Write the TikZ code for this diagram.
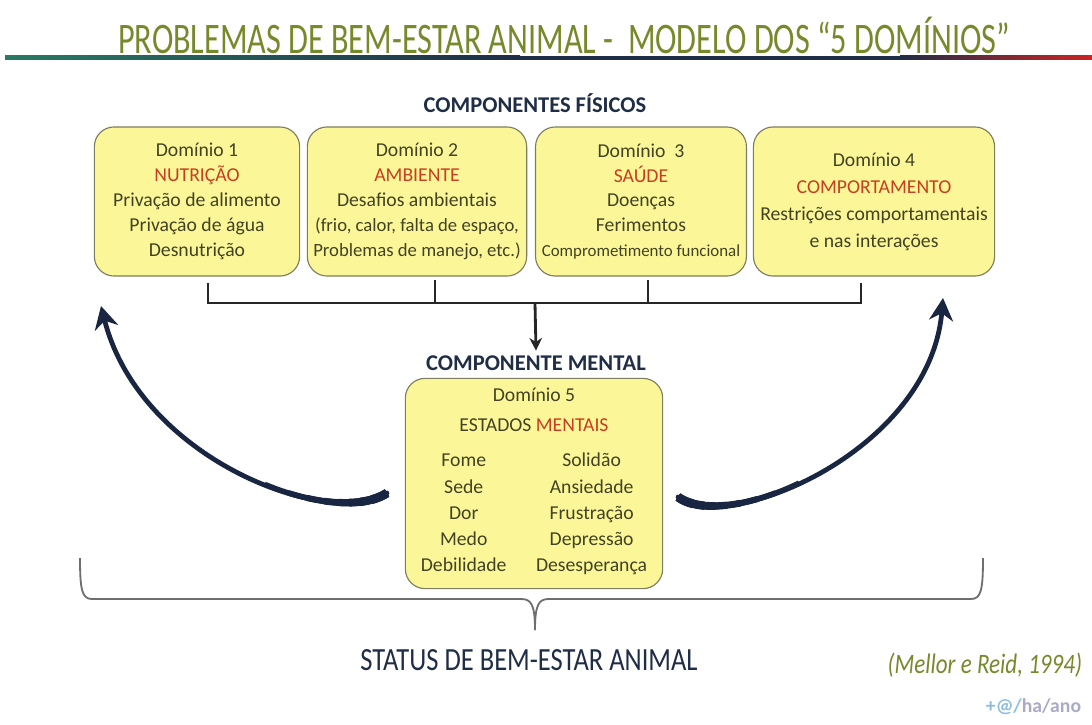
\documentclass[tikz,border=0pt]{standalone}
\usepackage{fontspec}
\setmainfont{Carlito}
\newfontfamily\titlefont[FakeStretch=0.74]{Carlito}
\newfontfamily\statusfont[FakeStretch=0.82]{Carlito}
\usetikzlibrary{arrows.meta}

\definecolor{titleolive}{RGB}{118,138,44}
\definecolor{headnavy}{RGB}{31,45,70}
\definecolor{boxfill}{RGB}{251,247,152}
\definecolor{boxline}{RGB}{125,125,95}
\definecolor{boxtext}{RGB}{66,66,36}
\definecolor{domred}{RGB}{200,62,32}
\definecolor{arrownavy}{RGB}{24,38,66}
\definecolor{lineteal}{RGB}{40,122,100}
\definecolor{linered}{RGB}{205,35,35}
\definecolor{bracegray}{RGB}{110,110,110}
\definecolor{tagblue}{RGB}{140,190,225}
\definecolor{tagmuted}{RGB}{170,170,200}

\tikzset{
  dombox/.style={draw=boxline, fill=boxfill, rounded corners=14pt, line width=0.8pt,
    align=center, text=boxtext, inner sep=0pt, minimum height=106pt,
    font=\fontsize{14}{17.7}\selectfont},
  headlabel/.style={text=headnavy, font=\bfseries\fontsize{16}{18}\selectfont},
  bracket/.style={draw=black!85, line width=2pt},
  swoosh/.style={draw=arrownavy, line width=3.4pt, line cap=round,
    -{Stealth[length=16pt,width=17pt]}},
  swooshtail/.style={draw=arrownavy, line width=#1},
  bigbrace/.style={draw=bracegray, line width=1.3pt}
}

\begin{document}
\begin{tikzpicture}[x=0.025cm, y=-0.025cm]

  % Fix the page to the reference size
  \useasboundingbox (0,0) rectangle (1092,724);

  % Title and the coloured rule under it
  \node[text=titleolive, font=\titlefont\fontsize{31}{34}\selectfont] (title) at (564,35)
    {PROBLEMAS DE BEM-ESTAR ANIMAL -~~MODELO DOS “5 DOMÍNIOS”};
  \shade[left color=lineteal, right color=headnavy] (5,55.5) rectangle (520,59.5);
  \fill[headnavy] (520,55.5) rectangle (900,59.5);
  \shade[left color=headnavy, right color=linered] (900,55.5) rectangle (1092,59.5);

  % Physical components
  \node[headlabel] (fisicos) at (535,103) {COMPONENTES FÍSICOS};

  \node[dombox, minimum width=146pt] (d1) at (197,201.5)
    {Domínio 1\\\textcolor{domred}{NUTRIÇÃO}\\Privação de alimento\\Privação de água\\Desnutrição};
  \node[dombox, minimum width=156pt] (d2) at (417,201.5)
    {Domínio 2\\\textcolor{domred}{AMBIENTE}\\Desafios ambientais\\
     {\fontsize{13.3}{17.7}\selectfont (frio, calor, falta de espaço,}\\
     {\fontsize{13.3}{17.7}\selectfont Problemas de manejo, etc.)}};
  \node[dombox, minimum width=150pt] (d3) at (641,201.5)
    {Domínio~~3\\\textcolor{domred}{SAÚDE}\\Doenças\\Ferimentos\\{\fontsize{12}{17.7}\selectfont Comprometimento funcional}};
  \node[dombox, minimum width=171.5pt] (d4) at (874,201.5)
    {Domínio 4\\[1.5pt]\textcolor{domred}{COMPORTAMENTO}\\[1.5pt]Restrições comportamentais\\[1.5pt]e nas interações};

  % Bracket joining the four domains
  \coordinate (t1) at (208,283);
  \coordinate (t2) at (435,280);
  \coordinate (t3) at (648,280);
  \coordinate (t4) at (861,283);
  \coordinate (jn) at (535,303);
  \draw[bracket] (t1) |- (jn) -| (t4);
  \draw[bracket] (t2) -- (t2 |- jn);
  \draw[bracket] (t3) -- (t3 |- jn);

  % Mental component
  \node[headlabel] (mental) at (536,363) {COMPONENTE MENTAL};
  \draw[bracket, -{Stealth[length=9pt,width=9pt]}] (jn) -- (mental.north);

  \node[dombox, minimum width=183pt, minimum height=149.5pt] (d5) at (534,483.5)
    {Domínio 5\\[4pt]ESTADOS \textcolor{domred}{MENTAIS}\\[11pt]
     \renewcommand{\arraystretch}{1.05}%
     \begin{tabular}{@{}c@{\hspace{21pt}}c@{}}
       Fome & Solidão\\
       Sede & Ansiedade\\
       Dor & Frustração\\
       Medo & Depressão\\
       Debilidade & Desesperança
     \end{tabular}};

  % Curved arrows back to the physical domains (thick tail, thinner body)
  \coordinate (lt) at (387,493);
  \coordinate (lh) at (101,306);
  \coordinate (rt) at (678,497);
  \coordinate (rh) at (943,298);
  \draw[swoosh] (lt) .. controls (330,530) and (140,460) .. (lh);
  \draw[swoosh] (rt) .. controls (730,535) and (930,450) .. (rh);
  \foreach \w/\l in {6.4/12, 6/20, 5.6/28, 5.2/36, 4.8/46, 4.4/58, 4/72, 3.7/90} {
    \draw[swooshtail=\w pt, dash pattern=on \l pt off 2000pt] (lt) .. controls (330,530) and (140,460) .. (lh);
    \draw[swooshtail=\w pt, dash pattern=on \l pt off 2000pt] (rt) .. controls (730,535) and (930,450) .. (rh);
  }

  % Brace gathering everything
  \coordinate (bl) at (80,558);
  \coordinate (br) at (983,558);
  \coordinate (bt) at (535,630);
  \draw[bigbrace] (bl) .. controls (80,590) and (82,599) .. (92,599) -- (521,599)
    .. controls (531,599) and (535,604) .. (bt);
  \draw[bigbrace] (br) .. controls (983,590) and (981,599) .. (971,599) -- (549,599)
    .. controls (539,599) and (535,604) .. (bt);

  \node[text=headnavy, font=\statusfont\fontsize{23}{25}\selectfont] (status) at (529,660)
    {STATUS DE BEM-ESTAR ANIMAL};

  % Reference and tag
  \node[anchor=east, text=titleolive, font=\statusfont\itshape\fontsize{20}{22}\selectfont] (ref) at (1087,665)
    {(Mellor e Reid, 1994)};
  \node[anchor=east, font=\bfseries\fontsize{14}{16}\selectfont] (tag) at (1086,707)
    {\textcolor{tagblue}{+@/}\textcolor{tagmuted}{ha/ano}};

\end{tikzpicture}
\end{document}
